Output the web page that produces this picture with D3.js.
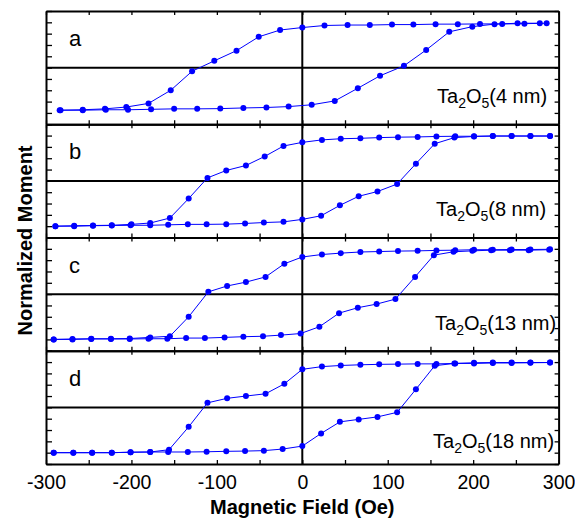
<!DOCTYPE html>
<html>
<head>
<meta charset="utf-8">
<script src="https://cdn.jsdelivr.net/npm/d3@7"></script>
<style>
html,body{margin:0;padding:0;background:#fff;}
svg text{font-family:"Liberation Sans",Arial,sans-serif;}
</style>
</head>
<body>
<svg id="chart" width="575" height="520"></svg>
<script>
// ---------- DATA ----------
const panelLetters = ["a", "b", "c", "d"];
const thicknessLabels = ["4 nm", "8 nm", "13 nm", "18 nm"];
const xTickValues = [-300, -250, -200, -150, -100, -50, 0, 50, 100, 150, 200, 250, 300];
const xTickLabels = ["-300", "", "-200", "", "-100", "", "0", "", "100", "", "200", "", "300"];
const yTickValues = [-1.25, -1, -0.75, -0.5, -0.25, 0, 0.25, 0.5, 0.75, 1, 1.25];

// panel a (4 nm)
const fieldDescA = [-283,-257,-231,-206,-180,-154,-129,-103,-77,-51,-26,0,26,53,79,105,130,156,182,208,234,260,286];
const momentDescA = [-0.94,-0.93,-0.91,-0.87,-0.79,-0.50,-0.08,0.15,0.375,0.68,0.83,0.885,0.93,0.94,0.94,0.95,0.95,0.96,0.96,0.965,0.965,0.97,0.98];
const fieldAscA = [-284,-257,-230,-204,-177,-150,-123,-96,-69,-42,-16,11,38,65,91,119,145,172,199,225,252,278];
const momentAscA = [-0.94,-0.94,-0.93,-0.93,-0.92,-0.91,-0.91,-0.905,-0.89,-0.88,-0.86,-0.82,-0.735,-0.455,-0.18,0.04,0.39,0.79,0.905,0.96,0.98,0.98];

// panel b (8 nm)
const fieldDescB = [-289,-267,-245,-223,-200,-178,-155,-133,-111,-89,-66,-44,-22,0,23,45,68,90,112,135,157,179,201,223,245,267,290];
const momentDescB = [-1.0,-0.99,-0.985,-0.98,-0.96,-0.93,-0.82,-0.39,0.066,0.23,0.34,0.54,0.77,0.85,0.905,0.93,0.94,0.955,0.965,0.97,0.98,0.985,0.985,0.99,0.99,0.99,0.99];
const fieldAscB = [-289,-267,-245,-223,-201,-178,-157,-134,-112,-89,-67,-45,-22,0,22,44,66,88,111,133,155,178,201,223,245,267,290];
const momentAscB = [-1.0,-1.0,-0.99,-0.985,-0.98,-0.98,-0.97,-0.96,-0.96,-0.955,-0.94,-0.92,-0.905,-0.85,-0.77,-0.54,-0.34,-0.235,-0.07,0.38,0.82,0.955,0.98,0.99,0.99,0.99,0.99];

// panel c (13 nm)
const fieldDescC = [-291,-269,-247,-224,-202,-178,-155,-133,-110,-88,-66,-43,-21,0,23,45,68,90,112,135,157,179,201,223,245,267,290];
const momentDescC = [-1.0,-0.99,-0.985,-0.985,-0.98,-0.955,-0.93,-0.5,0.05,0.18,0.265,0.38,0.67,0.82,0.875,0.905,0.93,0.94,0.95,0.955,0.965,0.97,0.98,0.98,0.985,0.985,0.99];
const fieldAscC = [-291,-269,-247,-224,-202,-180,-158,-136,-114,-91,-69,-46,-25,-2,20,43,65,87,109,132,154,177,199,221,243,265,289];
const momentAscC = [-1.0,-1.0,-0.99,-0.99,-0.99,-0.985,-0.985,-0.97,-0.97,-0.955,-0.94,-0.93,-0.905,-0.87,-0.72,-0.42,-0.30,-0.22,-0.11,0.38,0.86,0.935,0.955,0.97,0.97,0.97,0.98];

// panel d (18 nm)
const fieldDescD = [-291,-268,-246,-223,-201,-178,-156,-133,-111,-88,-66,-43,-21,0,23,45,68,90,112,135,157,179,201,223,245,267,290];
const momentDescD = [-1.0,-1.0,-1.0,-1.0,-0.99,-0.985,-0.935,-0.43,0.10,0.20,0.25,0.30,0.52,0.84,0.90,0.925,0.94,0.95,0.955,0.96,0.96,0.97,0.97,0.98,0.98,0.985,0.99];
const fieldAscD = [-291,-268,-246,-223,-201,-178,-157,-134,-112,-89,-67,-45,-23,0,22,44,66,88,111,133,155,178,201,223,245,267,290];
const momentAscD = [-1.0,-1.0,-1.0,-1.0,-0.99,-0.985,-0.985,-0.985,-0.98,-0.97,-0.965,-0.955,-0.92,-0.855,-0.575,-0.32,-0.265,-0.21,-0.11,0.40,0.92,0.97,0.985,0.99,0.99,0.99,0.99];

const panels = [
  {desc:[fieldDescA, momentDescA], asc:[fieldAscA, momentAscA]},
  {desc:[fieldDescB, momentDescB], asc:[fieldAscB, momentAscB]},
  {desc:[fieldDescC, momentDescC], asc:[fieldAscC, momentAscC]},
  {desc:[fieldDescD, momentDescD], asc:[fieldAscD, momentAscD]}
];

// ---------- LAYOUT ----------
const left = 46, right = 558.6, top0 = 11, panelH = 113.25;
const labelPos = [{x:437,y:103},{x:436,y:216},{x:435,y:330},{x:433,y:448}];
const blue = "#0000ff";

const svg = d3.select("#chart");
const x = d3.scaleLinear().domain([-300, 300]).range([left, right]);

panels.forEach((p, i) => {
  const top = top0 + i * panelH, bot = top + panelH;
  const y = d3.scaleLinear().domain([-1.25, 1.25]).range([bot, top]);
  const g = svg.append("g");

  // ticks (inward)
  const axL = g.append("g").attr("transform", `translate(${left},0)`)
    .call(d3.axisLeft(y).tickValues(yTickValues).tickSizeInner(-6).tickSizeOuter(0).tickFormat(""));
  const axR = g.append("g").attr("transform", `translate(${right},0)`)
    .call(d3.axisRight(y).tickValues(yTickValues).tickSizeInner(-4).tickSizeOuter(0).tickFormat(""));
  const axT = g.append("g").attr("transform", `translate(0,${top})`)
    .call(d3.axisTop(x).tickValues(xTickValues).tickSizeInner(-4).tickSizeOuter(0).tickFormat(""));
  const axB = g.append("g").attr("transform", `translate(0,${bot})`)
    .call(d3.axisBottom(x).tickValues(xTickValues).tickSizeInner(-4).tickSizeOuter(0)
      .tickPadding(11)
      .tickFormat((d, k) => i === 3 ? xTickLabels[k] : ""));
  [axL, axR, axT, axB].forEach(a => {
    a.select(".domain").attr("stroke", "#000").attr("stroke-width", 2);
    a.selectAll(".tick line").attr("stroke", "#000").attr("stroke-width", 1.3);
    a.selectAll(".tick text").attr("font-size", 19.5).attr("fill", "#000")
      .style("font-family", '"Liberation Sans", Arial, sans-serif');
  });

  // zero line
  g.append("line").attr("x1", left).attr("x2", right).attr("y1", y(0)).attr("y2", y(0))
    .attr("stroke", "#000").attr("stroke-width", 2);

  // panel letter
  g.append("text").attr("x", 69).attr("y", top + 35).attr("font-size", 22).text(panelLetters[i]);

  // thickness label
  const t = g.append("text").attr("x", labelPos[i].x).attr("y", labelPos[i].y).attr("font-size", 20);
  t.append("tspan").text("Ta");
  t.append("tspan").attr("font-size", 14).attr("dy", 5).text("2");
  t.append("tspan").attr("dy", -5).text("O");
  t.append("tspan").attr("font-size", 14).attr("dy", 5).text("5");
  t.append("tspan").attr("dy", -5).text("(" + thicknessLabels[i] + ")");
});

// vertical zero line
svg.append("line").attr("x1", x(0)).attr("x2", x(0)).attr("y1", top0).attr("y2", top0 + 4 * panelH)
  .attr("stroke", "#000").attr("stroke-width", 2);

// data
panels.forEach((p, i) => {
  const top = top0 + i * panelH, bot = top + panelH;
  const y = d3.scaleLinear().domain([-1.25, 1.25]).range([bot, top]);
  const g = svg.append("g");
  [p.desc, p.asc].forEach(br => {
    const pts = br[0].map((f, k) => [f, br[1][k]]);
    g.append("path").datum(pts)
      .attr("d", d3.line().x(d => x(d[0])).y(d => y(d[1])))
      .attr("fill", "none").attr("stroke", blue).attr("stroke-width", 1);
    g.selectAll(null).data(pts).enter().append("circle")
      .attr("cx", d => x(d[0])).attr("cy", d => y(d[1])).attr("r", 3).attr("fill", blue);
  });
});

// axis titles
svg.append("text").attr("x", x(0)).attr("y", 514).attr("text-anchor", "middle")
  .attr("font-size", 20).attr("font-weight", "bold").text("Magnetic Field (Oe)");
svg.append("text").attr("transform", "translate(31.5,240.5) rotate(-90)").attr("text-anchor", "middle")
  .attr("font-size", 20).attr("font-weight", "bold").text("Normalized Moment");
</script>
</body>
</html>
